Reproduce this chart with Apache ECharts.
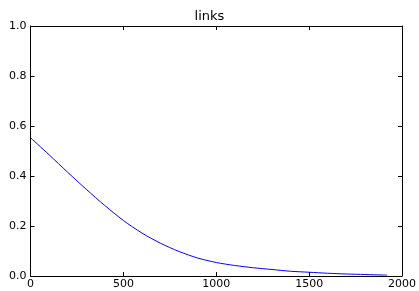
<!DOCTYPE html>
<html><head><meta charset="utf-8">
<script src="https://cdn.jsdelivr.net/npm/echarts@6/dist/echarts.min.js"></script>
<style>html,body{margin:0;padding:0;background:#fff}#c{width:419px;height:291px}</style>
</head><body><div id="c"></div>
<script>
const title = "links";
const xValues = [0,100,200,300,400,500,600,700,800,900,1000,1100,1200,1300,1400,1500,1600,1700,1800,1900,1920];
const yValues = [0.553,0.485,0.415,0.347,0.282,0.222,0.172,0.131,0.098,0.072,0.054,0.042,0.033,0.026,0.019,0.015,0.011,0.008,0.006,0.004,0.004];
const xTicks = [0,500,1000,1500,2000];
const yTicks = [0.0,0.2,0.4,0.6,0.8,1.0];

const font = "DejaVu Sans";
const chart = echarts.init(document.getElementById('c'), null, {renderer:'canvas'});
const axisCommon = {
  axisLine:{show:true, onZero:false, lineStyle:{color:'#000', width:1}},
  axisTick:{show:true, inside:true, length:4, lineStyle:{color:'#000', width:1}},
  splitLine:{show:false}
};
chart.setOption({
  animation:false,
  title:{text:title, left:'center', top:5, textStyle:{fontFamily:font, fontSize:13, fontWeight:'normal', color:'#000'}},
  grid:{left:30.5, right:14.5, top:26, bottom:15, containLabel:false},
  xAxis:[
    Object.assign({type:'value', min:xTicks[0], max:xTicks[xTicks.length-1], interval:500, position:'bottom',
      axisLabel:{color:'#000', fontFamily:font, fontSize:11, margin:3, formatter:v=>String(v)}}, axisCommon),
    Object.assign({type:'value', min:xTicks[0], max:xTicks[xTicks.length-1], interval:500, position:'top',
      axisLabel:{show:false}}, axisCommon)
  ],
  yAxis:[
    Object.assign({type:'value', min:yTicks[0], max:yTicks[yTicks.length-1], interval:0.2, position:'left',
      axisLabel:{color:'#000', fontFamily:font, fontSize:11, margin:4, formatter:v=>v.toFixed(1)}}, axisCommon),
    Object.assign({type:'value', min:yTicks[0], max:yTicks[yTicks.length-1], interval:0.2, position:'right',
      axisLabel:{show:false}}, axisCommon)
  ],
  series:[{
    type:'line', xAxisIndex:0, yAxisIndex:0, showSymbol:false, smooth:0.3,
    lineStyle:{color:'#0000ff', width:1},
    data:xValues.map((x,i)=>[x,yValues[i]])
  }]
});
</script></body></html>
